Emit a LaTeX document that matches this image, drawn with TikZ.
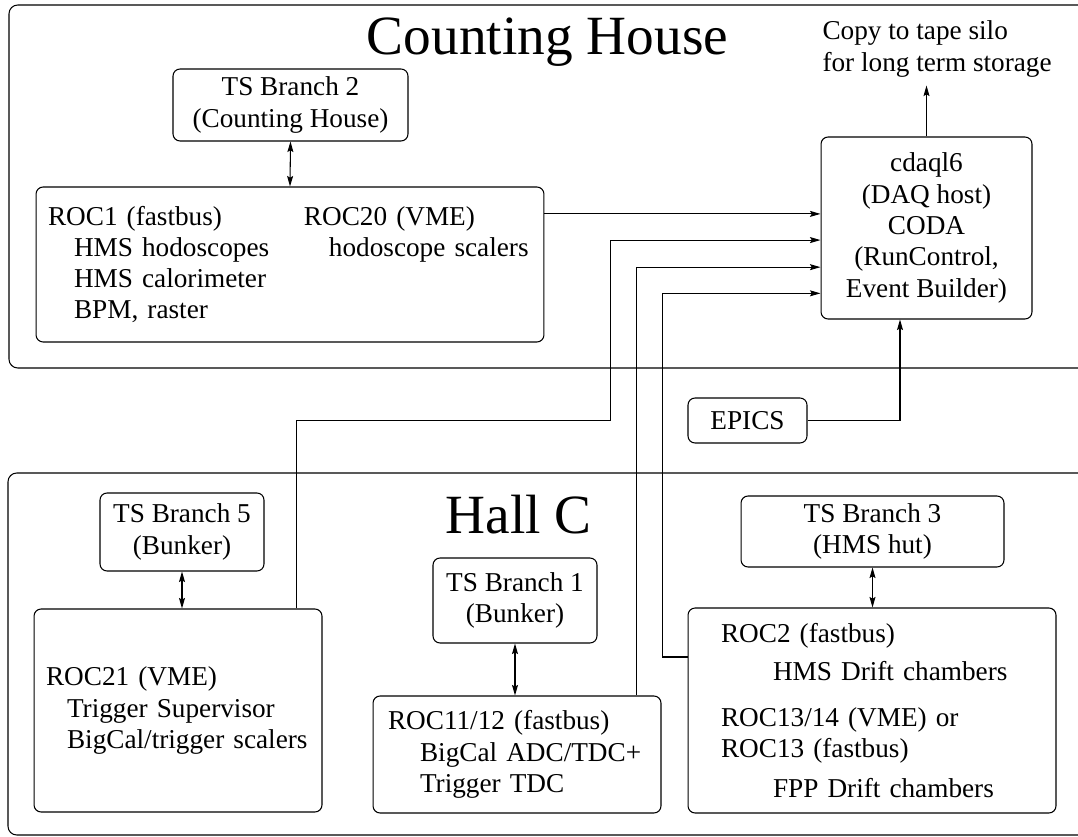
\documentclass[tikz,border=0pt]{standalone}
\usepackage{fontspec}
\setmainfont{Liberation Serif}
\usetikzlibrary{calc,arrows.meta}
\newcommand{\BoxFont}{\fontsize{15.5}{17.8}\selectfont}
\newcommand{\AreaFont}{\fontsize{31.5}{36}\selectfont}

\begin{document}
\begin{tikzpicture}[x=0.02cm,y=-0.02cm,line width=0.6pt,
  >={Stealth[length=6pt,width=3.4pt,inset=1pt]},
  tsbox/.style={draw,rounded corners=4pt,font=\BoxFont,align=center,inner sep=0pt},
  rocbox/.style={tsbox,align=left}]
\useasboundingbox (0,0) rectangle (1078,837);
\clip (0,0) rectangle (1078,837);

% areas
\draw[rounded corners=5pt] (9,5) rectangle (1200,368);
\draw[rounded corners=5pt] (8,473) rectangle (1200,835);
\node[font=\AreaFont,anchor=base] (house) at (547.5,55) {Counting House};
\node[font=\AreaFont,anchor=base] (hallc) at (518.5,533) {Hall C};

% counting house
\node[tsbox,minimum width=4.70cm,minimum height=1.44cm] (tsb2) at (290.5,105) {TS Branch 2\\(Counting House)};
\node[rocbox,inner xsep=0.24cm,text width=9.68cm,minimum height=3.10cm] (roc1) at (290,264.5) {\makebox[5.12cm][l]{ROC1 (fastbus)}ROC20 (VME)\\
\hspace*{0.52cm}\makebox[4.6cm][l]{HMS hodoscopes}\hspace*{0.5cm}hodoscope scalers\\
\hspace*{0.52cm}HMS calorimeter\\
\hspace*{0.52cm}BPM, raster};
\node[tsbox,minimum width=4.22cm,minimum height=3.64cm] (cdaq) at (926.5,228) {cdaql6\\(DAQ host)\\CODA\\(RunControl,\\Event Builder)};
\node[font=\BoxFont,align=left,anchor=west,inner xsep=0pt,inner ysep=0.16cm] (copy) at (822,49) {Copy to tape silo\\for long term storage};
\node[tsbox,minimum width=2.38cm,minimum height=0.90cm] (epics) at (747.5,420.5) {EPICS};

% hall c
\node[tsbox,minimum width=3.28cm,minimum height=1.56cm] (tsb5) at (182,532) {TS Branch 5\\(Bunker)};
\node[rocbox,inner xsep=0.24cm,text width=5.28cm,minimum height=4.06cm] (roc21) at (178,710.5) {ROC21 (VME)\\
\hspace*{0.42cm}Trigger Supervisor\\
\hspace*{0.42cm}BigCal/trigger scalers};
\node[tsbox,minimum width=3.28cm,minimum height=1.70cm] (tsb1) at (515,600.5) {TS Branch 1\\(Bunker)};
\node[rocbox,inner xsep=0.30cm,text width=5.16cm,minimum height=2.34cm] (roc11) at (517,754.5) {ROC11/12 (fastbus)\\
\hspace*{0.64cm}BigCal ADC/TDC+\\
\hspace*{0.64cm}Trigger TDC};
\node[tsbox,minimum width=5.26cm,minimum height=1.42cm] (tsb3) at (872.5,531.5) {TS Branch 3\\(HMS hut)};
\node[rocbox,inner xsep=0.66cm,text width=6.04cm,minimum height=4.10cm] (roc2) at (872,710.5) {ROC2 (fastbus)\\[4pt]
\hspace*{1.04cm}HMS Drift chambers\\[8pt]
ROC13/14 (VME) or\\
ROC13 (fastbus)\\[5pt]
\hspace*{1.04cm}FPP Drift chambers};

% inputs of the DAQ host
\coordinate (in1) at ($(cdaq.north west)!0.423!(cdaq.south west)$);
\coordinate (in2) at ($(cdaq.north west)!0.566!(cdaq.south west)$);
\coordinate (in3) at ($(cdaq.north west)!0.714!(cdaq.south west)$);
\coordinate (in4) at ($(cdaq.north west)!0.857!(cdaq.south west)$);

% trigger supervisor branches
\draw[<->] (tsb2.south) -- (roc1.north);
\draw[<->] (tsb5.south) -- (tsb5.south |- roc21.north);
\draw[<->] (tsb1.south) -- (tsb1.south |- roc11.north);
\draw[<->] (tsb3.south) -- (tsb3.south |- roc2.north);

% data paths
\draw[->] (roc1.east |- in1) -- (in1);
\draw[->] ([xshift=-0.52cm]roc21.north east) -- ++(0,-188) -- ++(314,0) |- (in2);
\draw[->] ([xshift=-0.5cm]roc11.north east) |- (in3);
\draw[->] ([yshift=1.07cm]roc2.west) -- ++(-25,0) |- (in4);
\draw[->] (epics.east) -| ([xshift=-0.53cm]cdaq.south);
\draw[->] (cdaq.north) -- (cdaq.north |- copy.south);
\end{tikzpicture}
\end{document}
